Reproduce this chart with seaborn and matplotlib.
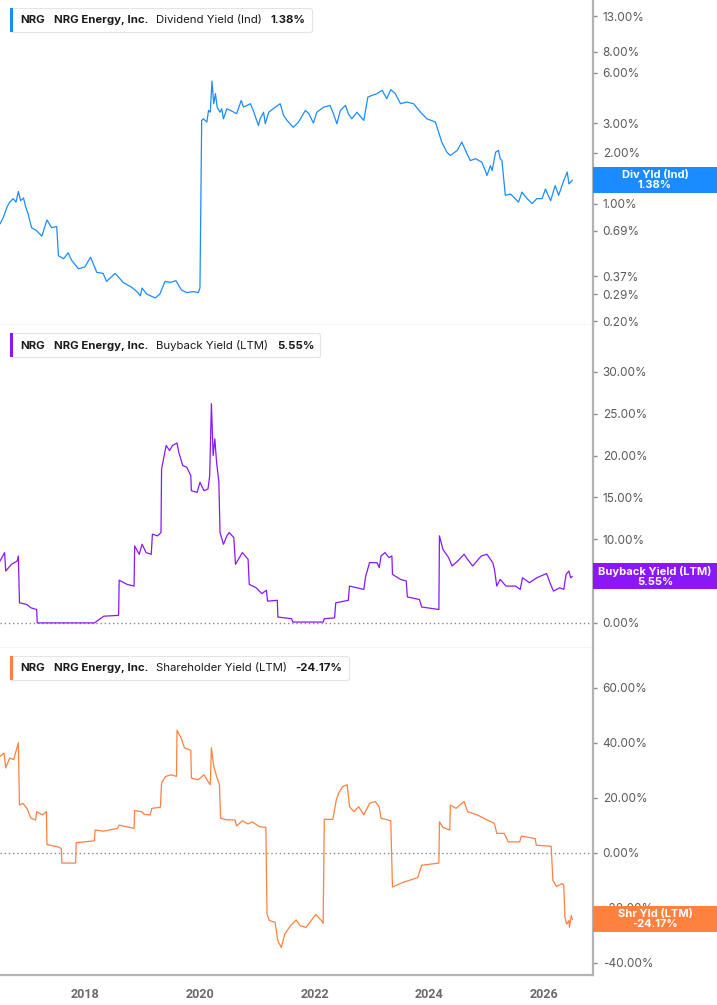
import matplotlib
matplotlib.use("Agg")
import matplotlib.pyplot as plt
import seaborn as sns
import pandas as pd
from matplotlib.patches import Rectangle
from matplotlib.offsetbox import AnchoredOffsetbox, HPacker, TextArea, DrawingArea

sns.set_style("white")
plt.rcParams["font.family"] = ["Inter", "DejaVu Sans"]

# Dividend yield (Ind), %
div_years = [2016.51, 2016.57, 2016.63, 2016.68, 2016.74, 2016.79, 2016.83, 2016.87, 2016.92, 2016.96,
             2017.00, 2017.06, 2017.15, 2017.24, 2017.33, 2017.41, 2017.50, 2017.53, 2017.62, 2017.70,
             2017.76, 2017.88, 2017.99, 2018.09, 2018.20, 2018.31, 2018.37, 2018.52, 2018.66, 2018.81,
             2018.90, 2018.96, 2018.99, 2019.07, 2019.22, 2019.30, 2019.39, 2019.48, 2019.58, 2019.68,
             2019.77, 2019.89, 2019.97, 2020.00, 2020.03, 2020.06, 2020.12, 2020.15, 2020.18, 2020.21,
             2020.24, 2020.27, 2020.30, 2020.35, 2020.38, 2020.41, 2020.47, 2020.53, 2020.59, 2020.64,
             2020.72, 2020.76, 2020.82, 2020.88, 2020.93, 2021.02, 2021.05, 2021.11, 2021.14, 2021.20,
             2021.28, 2021.40, 2021.46, 2021.52, 2021.63, 2021.72, 2021.84, 2021.90, 2021.98, 2022.04,
             2022.16, 2022.27, 2022.33, 2022.39, 2022.45, 2022.54, 2022.59, 2022.65, 2022.74, 2022.86,
             2022.93, 2023.00, 2023.09, 2023.18, 2023.26, 2023.33, 2023.41, 2023.50, 2023.61, 2023.73,
             2023.85, 2023.96, 2024.11, 2024.22, 2024.31, 2024.37, 2024.49, 2024.57, 2024.66, 2024.72,
             2024.81, 2024.92, 2024.98, 2025.01, 2025.07, 2025.10, 2025.16, 2025.21, 2025.24, 2025.27,
             2025.33, 2025.42, 2025.48, 2025.56, 2025.62, 2025.71, 2025.80, 2025.88, 2025.97, 2026.03,
             2026.12, 2026.20, 2026.26, 2026.35, 2026.41, 2026.44, 2026.47, 2026.50]
div_vals = [0.757, 0.83, 0.95, 1.02, 1.07, 1.02, 1.18, 1.04, 1.08, 0.95,
            0.87, 0.72, 0.69, 0.64, 0.80, 0.72, 0.73, 0.49, 0.47, 0.51,
            0.46, 0.41, 0.42, 0.48, 0.39, 0.385, 0.345, 0.385, 0.34, 0.318,
            0.30, 0.283, 0.315, 0.29, 0.275, 0.29, 0.345, 0.34, 0.348, 0.306,
            0.296, 0.30, 0.296, 0.315, 3.12, 3.19, 3.05, 3.58, 3.49, 5.35,
            3.92, 4.50, 3.74, 3.49, 3.66, 3.19, 3.66, 3.58, 3.49, 3.42,
            4.10, 3.74, 3.83, 3.92, 3.58, 2.91, 3.19, 3.49, 2.98, 3.49,
            3.66, 3.92, 3.34, 3.12, 2.84, 3.05, 3.58, 3.42, 3.01, 3.49,
            3.74, 3.83, 3.42, 2.98, 3.58, 3.83, 3.42, 3.19, 3.49, 3.12,
            4.29, 4.39, 4.50, 4.71, 4.20, 4.75, 4.50, 3.92, 4.01, 3.92,
            3.49, 3.19, 3.05, 2.32, 2.02, 1.93, 2.07, 2.32, 1.98, 1.80,
            1.85, 1.76, 1.57, 1.47, 1.68, 1.57, 2.02, 2.07, 1.85, 1.80,
            1.12, 1.14, 1.09, 1.02, 1.17, 1.07, 1.00, 1.07, 1.07, 1.22,
            1.04, 1.28, 1.12, 1.37, 1.54, 1.31, 1.34, 1.38]

# Buyback yield (LTM), %
bb_years = [2016.51, 2016.59, 2016.61, 2016.71, 2016.81, 2016.83, 2016.85, 2016.98, 2017.05, 2017.15,
            2017.16, 2018.16, 2018.32, 2018.58, 2018.59, 2018.73, 2018.85, 2018.86, 2018.94, 2018.99,
            2019.06, 2019.15, 2019.17, 2019.26, 2019.32, 2019.33, 2019.37, 2019.41, 2019.47, 2019.52,
            2019.60, 2019.63, 2019.70, 2019.77, 2019.84, 2019.85, 2019.95, 2020.00, 2020.07, 2020.14,
            2020.17, 2020.20, 2020.23, 2020.26, 2020.29, 2020.33, 2020.35, 2020.41, 2020.47, 2020.51,
            2020.59, 2020.62, 2020.74, 2020.84, 2020.86, 2020.98, 2021.08, 2021.16, 2021.18, 2021.35,
            2021.36, 2021.60, 2021.62, 2022.15, 2022.17, 2022.35, 2022.37, 2022.59, 2022.61, 2022.86,
            2022.89, 2022.96, 2023.09, 2023.13, 2023.16, 2023.23, 2023.30, 2023.35, 2023.36, 2023.50,
            2023.60, 2023.62, 2023.83, 2023.87, 2024.17, 2024.18, 2024.24, 2024.34, 2024.40, 2024.50,
            2024.61, 2024.67, 2024.76, 2024.91, 2025.01, 2025.11, 2025.14, 2025.18, 2025.24, 2025.34,
            2025.51, 2025.59, 2025.63, 2025.75, 2025.88, 2026.05, 2026.12, 2026.17, 2026.28, 2026.35,
            2026.39, 2026.44, 2026.47, 2026.50]
bb_vals = [7.4, 8.4, 6.2, 7.0, 7.4, 8.0, 2.4, 2.2, 1.8, 1.6,
           0.0, 0.0, 0.8, 0.9, 5.1, 4.6, 4.4, 9.2, 8.2, 9.4,
           8.4, 8.2, 10.6, 10.4, 10.8, 18.4, 19.8, 21.2, 20.6, 21.2,
           21.5, 20.4, 18.8, 18.6, 17.6, 15.8, 15.6, 16.8, 15.8, 16.0,
           17.6, 26.2, 20.0, 22.0, 19.2, 16.8, 10.8, 9.4, 10.4, 10.8,
           10.2, 7.0, 8.4, 7.6, 4.6, 4.2, 3.5, 3.9, 2.6, 2.7,
           0.7, 0.5, 0.1, 0.1, 0.5, 0.6, 2.4, 2.7, 4.4, 4.0,
           5.5, 7.2, 7.2, 6.6, 8.0, 8.4, 7.8, 8.0, 5.8, 5.2,
           5.0, 3.1, 2.8, 1.9, 1.6, 10.4, 8.8, 7.8, 6.8, 7.4,
           8.2, 7.6, 6.8, 8.0, 8.2, 7.2, 6.4, 4.4, 5.2, 4.4,
           4.4, 4.0, 5.4, 4.8, 5.4, 5.9, 4.6, 3.8, 4.2, 4.0,
           5.8, 6.2, 5.4, 5.55]

# Shareholder yield (LTM), %
sh_years = [2016.51, 2016.58, 2016.61, 2016.68, 2016.75, 2016.78, 2016.83, 2016.85, 2016.91, 2016.98,
            2017.05, 2017.13, 2017.15, 2017.25, 2017.32, 2017.33, 2017.52, 2017.58, 2017.59, 2017.83,
            2017.84, 2018.16, 2018.17, 2018.32, 2018.56, 2018.59, 2018.85, 2018.86, 2018.98, 2019.03,
            2019.13, 2019.16, 2019.31, 2019.33, 2019.40, 2019.50, 2019.59, 2019.60, 2019.67, 2019.73,
            2019.84, 2019.85, 2019.97, 2020.07, 2020.14, 2020.18, 2020.20, 2020.24, 2020.29, 2020.34,
            2020.36, 2020.47, 2020.61, 2020.64, 2020.74, 2020.84, 2020.91, 2021.04, 2021.15, 2021.17,
            2021.21, 2021.31, 2021.36, 2021.42, 2021.48, 2021.58, 2021.68, 2021.75, 2021.85, 2022.02,
            2022.12, 2022.15, 2022.17, 2022.32, 2022.38, 2022.42, 2022.49, 2022.57, 2022.61, 2022.69,
            2022.77, 2022.86, 2022.96, 2023.06, 2023.13, 2023.16, 2023.33, 2023.36, 2023.56, 2023.80,
            2023.87, 2024.17, 2024.18, 2024.24, 2024.36, 2024.37, 2024.47, 2024.61, 2024.67, 2024.84,
            2025.01, 2025.14, 2025.18, 2025.31, 2025.38, 2025.58, 2025.61, 2025.85, 2025.87, 2026.13,
            2026.16, 2026.22, 2026.32, 2026.35, 2026.37, 2026.40, 2026.44, 2026.45, 2026.48, 2026.50]
sh_vals = [35.1, 36.3, 30.9, 34.5, 33.9, 36.3, 40.0, 17.4, 18.0, 16.2,
           12.6, 12.0, 15.0, 13.8, 15.0, 3.0, 2.2, 1.6, -3.7, -3.7,
           3.7, 4.4, 8.3, 7.9, 8.9, 10.1, 8.9, 15.4, 15.0, 14.0,
           13.8, 16.2, 16.6, 25.4, 27.8, 28.4, 27.8, 44.6, 41.8, 38.2,
           37.3, 27.2, 26.6, 28.4, 26.0, 24.8, 38.2, 31.5, 27.8, 24.8,
           12.6, 12.0, 12.0, 9.8, 11.7, 10.5, 11.3, 9.5, 9.3, -22.2,
           -24.6, -25.2, -32.0, -34.4, -29.5, -26.5, -24.4, -26.5, -27.1, -22.4,
           -24.6, -25.6, 12.2, 12.2, 19.3, 21.7, 24.1, 24.8, 16.8, 15.0,
           16.8, 13.8, 18.0, 18.7, 16.6, 12.6, 11.7, -12.4, -10.6, -9.0,
           -4.5, -3.7, 11.3, 9.3, 8.3, 17.4, 16.2, 18.7, 15.0, 13.8,
           12.0, 10.7, 7.1, 7.1, 4.0, 4.0, 6.1, 5.2, 2.8, 2.4,
           -10.0, -12.2, -11.2, -11.8, -23.4, -25.9, -24.6, -27.1, -22.8, -24.17]

metrics = ["Dividend Yield (Ind)", "Buyback Yield (LTM)", "Shareholder Yield (LTM)"]
tags = ["Div Yld (Ind)", "Buyback Yield (LTM)", "Shr Yld (LTM)"]
colors = ["#1b8cff", "#8a17f7", "#ff8140"]
year_ticks = [2018, 2020, 2022, 2024, 2026]

W, H = 717, 1005
fig = plt.figure(figsize=(W / 100, H / 100), dpi=100)
plot_w = 593
bands = [(0, 325), (325, 648), (648, 975)]


def add_legend(ax, color, metric, value, band_h):
    bar = DrawingArea(2.2, 17.5, 0, 0)
    bar.add_artist(Rectangle((0, 0), 2.2, 17.5, fc=color, ec="none"))
    bold = dict(fontsize=8.2, fontweight="bold", color="#1a1a1a")
    reg = dict(fontsize=8.2, color="#1a1a1a")
    parts = [TextArea("NRG", textprops=bold), TextArea("NRG Energy, Inc.", textprops=bold),
             TextArea(metric, textprops=reg), TextArea(value, textprops=bold)]
    texts = HPacker(children=parts, pad=4.5, sep=6, align="baseline")
    box = HPacker(children=[bar, texts], pad=0, sep=1, align="center")
    anchored = AnchoredOffsetbox(loc="upper left", child=box, pad=0, borderpad=0, frameon=True,
                                 bbox_to_anchor=(10 / plot_w, 1 - 8 / band_h),
                                 bbox_transform=ax.transAxes)
    anchored.patch.set_edgecolor("#e4e4e4")
    anchored.patch.set_linewidth(0.8)
    anchored.patch.set_boxstyle("round,pad=0,rounding_size=0.2")
    ax.add_artist(anchored)


def add_value_box(ax, color, tag, last_x, last_y, label):
    y_pix = ax.transData.transform((last_x, last_y))[1]
    box_h = 26
    fig.add_artist(Rectangle((plot_w / W, (y_pix - box_h / 2) / H), (W - plot_w) / W, box_h / H,
                             transform=fig.transFigure, fc=color, ec="none", zorder=5))
    fig.text((plot_w + (W - plot_w) / 2) / W, y_pix / H, f"{tag}\n{label}", ha="center", va="center",
             color="white", fontsize=8, fontweight="bold", linespacing=1.0, zorder=6)


series = [(div_years, div_vals), (bb_years, bb_vals), (sh_years, sh_vals)]
ylims = [(0.19, 16.2), (-3.0, 35.6), (-44.4, 74.5)]
yticks = [[0.2, 0.29, 0.37, 0.69, 1, 2, 3, 6, 8, 13],
          [0, 5, 10, 15, 20, 25, 30],
          [-40, -20, 0, 20, 40, 60]]
last_labels = ["1.38%", "5.55%", "-24.17%"]

for i, ((top, bot), (xs, ys)) in enumerate(zip(bands, series)):
    ax = fig.add_axes([0, 1 - bot / H, plot_w / W, (bot - top) / H])
    df = pd.DataFrame({"year": xs, "value": ys})
    sns.lineplot(data=df, x="year", y="value", ax=ax, color=colors[i], linewidth=0.9, estimator=None)
    if i == 0:
        ax.set_yscale("log")
        ax.minorticks_off()
    ax.set_ylim(*ylims[i])
    ax.set_xlim(2016.51, 2026.86)
    ax.set_yticks(yticks[i])
    ax.set_yticklabels([f"{t:.2f}%" for t in yticks[i]])
    ax.set_xlabel("")
    ax.set_ylabel("")
    if i > 0:
        ax.axhline(0, color="#888888", lw=1, ls=(0, (1, 2)), zorder=1)

    ax.yaxis.tick_right()
    ax.tick_params(axis="y", which="major", direction="out", length=3, width=1, color="#8a8a8a",
                   pad=4, labelsize=8.5, labelcolor="#5a5a5a", right=True, left=False)
    for side in ["top", "left"]:
        ax.spines[side].set_visible(False)
    ax.spines["right"].set_color("#b3b3b3")
    ax.spines["right"].set_linewidth(1.6)

    ax.set_xticks(year_ticks)
    if i < 2:
        ax.spines["bottom"].set_color("#d0d0d0")
        ax.spines["bottom"].set_linewidth(1)
        ax.tick_params(axis="x", bottom=False, labelbottom=False)
    else:
        ax.spines["bottom"].set_color("#b3b3b3")
        ax.spines["bottom"].set_linewidth(1.6)
        ax.tick_params(axis="x", direction="out", length=4, width=1, color="#9a9a9a", pad=5,
                       labelsize=9, labelcolor="#6a6a6a")
        for lbl in ax.get_xticklabels():
            lbl.set_fontweight("bold")
            lbl.set_family(["Roboto", "DejaVu Sans"])

    add_legend(ax, colors[i], metrics[i], last_labels[i], bot - top)
    add_value_box(ax, colors[i], tags[i], xs[-1], ys[-1], last_labels[i])

fig.savefig("out.png", dpi=100)
